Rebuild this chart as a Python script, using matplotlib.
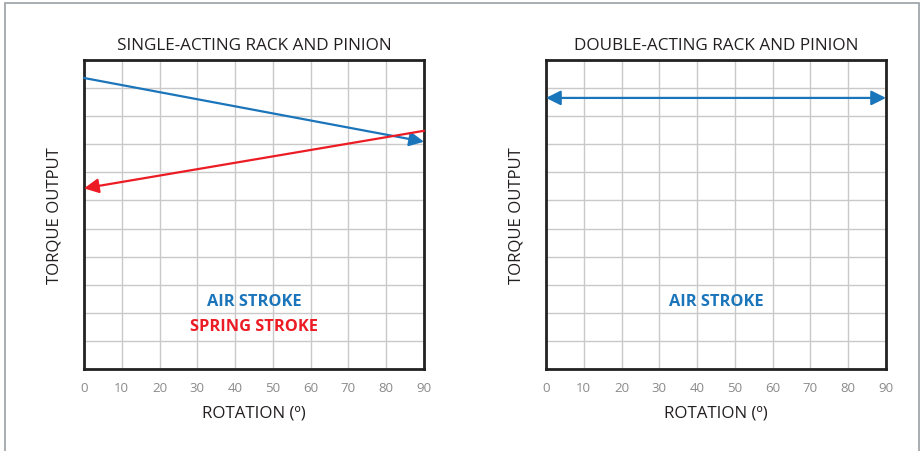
import matplotlib
matplotlib.use("Agg")
import matplotlib.pyplot as plt
from matplotlib.patches import Rectangle

plt.rcParams['font.family'] = ['Open Sans', 'DejaVu Sans']

x_ticks = [0, 10, 20, 30, 40, 50, 60, 70, 80, 90]
y_grid = list(range(0, 12))

# single-acting
air_x = [0, 90]
air_y = [10.36, 8.09]
spring_x = [90, 0]
spring_y = [8.48, 6.43]
# double-acting
dbl_x = [0, 90]
dbl_y = [9.65, 9.65]

BLUE = '#1b75bb'
RED = '#ec1c24'
GRID = '#c9c9c9'

fig = plt.figure(figsize=(9.23, 4.52), dpi=100)
fig.patches.append(Rectangle((5/923, -0.2), (919-5)/923, 1.2 - 4/452, transform=fig.transFigure,
                             fill=False, edgecolor='#9a9fa5', lw=1.2))

ax1 = fig.add_axes([84/923, 1-370/452, 340/923, 309/452])
ax2 = fig.add_axes([546/923, 1-370/452, 340/923, 309/452])

def style(ax, title):
    ax.set_xlim(0, 90)
    ax.set_ylim(0, 11)
    ax.set_xticks(x_ticks)
    ax.set_yticks(y_grid)
    ax.set_yticklabels([])
    ax.grid(True, color=GRID, lw=1.0)
    ax.set_axisbelow(True)
    ax.tick_params(axis='both', length=0)
    ax.tick_params(axis='x', colors='#8a8a8a', labelsize=9.5, pad=9)
    for s in ax.spines.values():
        s.set_color('#222222')
        s.set_linewidth(2)
    ax.set_title(title, fontsize=12.3, color='#231f20', pad=8)
    ax.set_xlabel('ROTATION (º)', fontsize=12.2, color='#231f20', labelpad=7)
    ax.set_ylabel('TORQUE OUTPUT', fontsize=12.1, color='#231f20', labelpad=12)

style(ax1, 'SINGLE-ACTING RACK AND PINION')
style(ax2, 'DOUBLE-ACTING RACK AND PINION')

def arrow(ax, xs, ys, color, style='-|>'):
    ax.annotate('', xy=(xs[1], ys[1]), xytext=(xs[0], ys[0]),
                arrowprops=dict(arrowstyle=style, color=color, lw=1.6,
                                mutation_scale=22, shrinkA=0, shrinkB=0),
                annotation_clip=False)

arrow(ax1, air_x, air_y, BLUE)
arrow(ax1, spring_x, spring_y, RED)
arrow(ax2, dbl_x, dbl_y, BLUE, style='<|-|>')

ax1.text(45, 2.42, 'AIR STROKE', color=BLUE, fontsize=11.8, fontweight='bold', ha='center', va='center')
ax1.text(45, 1.53, 'SPRING STROKE', color=RED, fontsize=11.8, fontweight='bold', ha='center', va='center')
ax2.text(45, 2.42, 'AIR STROKE', color=BLUE, fontsize=11.8, fontweight='bold', ha='center', va='center')

fig.savefig('out.png', dpi=100)
